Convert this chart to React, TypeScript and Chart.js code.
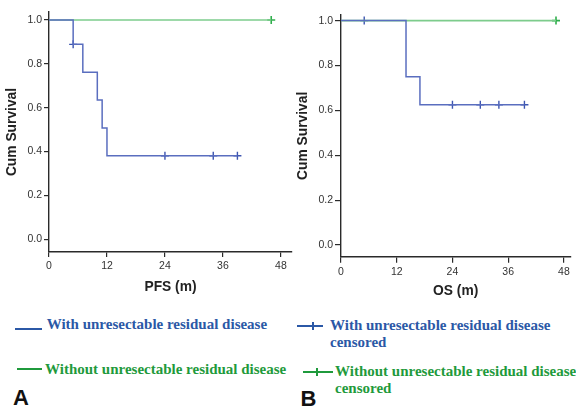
import React, { useEffect, useRef } from "react";
import { Chart, registerables } from "chart.js";
Chart.register(...registerables);

// ---- data ----
const xTicks = [0, 12, 24, 36, 48];
const yTicks = [0, 0.2, 0.4, 0.6, 0.8, 1.0];

const pfsWithTimes = [0, 5, 7, 10, 11, 12, 39];
const pfsWithSurv = [1, 0.889, 0.762, 0.635, 0.508, 0.381, 0.381];
const pfsWithCensTimes = [5, 24, 34, 39];
const pfsWithCensSurv = [0.889, 0.381, 0.381, 0.381];
const pfsWithoutTimes = [0, 46];
const pfsWithoutSurv = [1, 1];
const pfsWithoutCensTimes = [46];
const pfsWithoutCensSurv = [1];

const osWithTimes = [0, 14, 17, 39.5];
const osWithSurv = [1, 0.75, 0.625, 0.625];
const osWithCensTimes = [5, 24, 30, 34, 39.5];
const osWithCensSurv = [1, 0.625, 0.625, 0.625, 0.625];
const osWithoutTimes = [0, 46.3];
const osWithoutSurv = [1, 1];
const osWithoutCensTimes = [46.3];
const osWithoutCensSurv = [1];

const legendWith = "With unresectable residual disease";
const legendWithout = "Without unresectable residual disease";
const legendCensored = "censored";
const yTitle = "Cum Survival";

// ---- styles ----
const BLUE_LINE = "#5a6ebf";
const BLUE_MARK = "#3d55b0";
const GREEN_LINE = "#7dcc8c";
const GREEN_MARK = "#2fae4c";
const AXIS = "#2a2a2a";
const TEXT_BLUE = "#2b58a6";
const TEXT_GREEN = "#1f9a3c";

const zip = (xs: number[], ys: number[]) => xs.map((x, i) => ({ x, y: ys[i] }));

type P = {
  withT: number[]; withS: number[]; withCT: number[]; withCS: number[];
  woT: number[]; woS: number[]; woCT: number[]; woCS: number[];
  xTitle: string; xMax: number; yMin: number; yMax: number;
  padTop: number; padRight: number; yAxisW: number; xAxisH: number;
  xTitlePad: number; yTitlePad: number; tickLen: number;
};

function makeConfig(p: P): any {
  const tickFont = { family: "'Liberation Sans', Arial, sans-serif", size: 10.5 };
  const titleFont = { family: "'Liberation Sans', Arial, sans-serif", size: 13.8, weight: "bold" as const };
  return {
    type: "scatter",
    data: {
      datasets: [
        {
          data: zip(p.withT, p.withS), showLine: true, stepped: "before",
          borderColor: BLUE_LINE, borderWidth: 1.5, pointRadius: 0, fill: false,
        },
        {
          data: zip(p.woT, p.woS), showLine: true, stepped: "before",
          borderColor: GREEN_LINE, borderWidth: 1.6, pointRadius: 0, fill: false,
        },
        {
          data: zip(p.withCT, p.withCS), showLine: false, pointStyle: "cross",
          pointRadius: 4, pointBorderWidth: 1.4, pointBorderColor: BLUE_MARK, borderColor: BLUE_MARK,
        },
        {
          data: zip(p.woCT, p.woCS), showLine: false, pointStyle: "cross",
          pointRadius: 4, pointBorderWidth: 1.6, pointBorderColor: GREEN_MARK, borderColor: GREEN_MARK,
        },
      ],
    },
    options: {
      animation: false,
      responsive: false,
      events: [],
      layout: { padding: { left: 0, right: p.padRight, top: p.padTop, bottom: 0 } },
      plugins: { legend: { display: false }, tooltip: { enabled: false } },
      scales: {
        x: {
          type: "linear", min: 0, max: p.xMax,
          afterBuildTicks: (s: any) => { s.ticks = xTicks.map((v) => ({ value: v })); },
          afterFit: (s: any) => { s.height = p.xAxisH; },
          grid: { display: true, drawOnChartArea: false, drawTicks: true, tickLength: p.tickLen, color: AXIS, lineWidth: 1.2 },
          border: { display: true, color: AXIS, width: 1.4 },
          ticks: { font: tickFont, color: "#333", padding: 3, maxRotation: 0, autoSkip: false },
          title: { display: true, text: p.xTitle, font: titleFont, color: "#222", padding: { top: 0, bottom: p.xTitlePad } },
        },
        y: {
          type: "linear", min: p.yMin, max: p.yMax,
          afterBuildTicks: (s: any) => { s.ticks = yTicks.map((v) => ({ value: v })); },
          afterFit: (s: any) => { s.width = p.yAxisW; },
          grid: { display: true, drawOnChartArea: false, drawTicks: true, tickLength: p.tickLen, color: AXIS, lineWidth: 1.2 },
          border: { display: true, color: AXIS, width: 1.4 },
          ticks: {
            font: tickFont, color: "#333", padding: 2, autoSkip: false,
            callback: (v: any) => Number(v).toFixed(1),
          },
          title: { display: true, text: yTitle, font: titleFont, color: "#222", padding: { top: p.yTitlePad, bottom: 0 } },
        },
      },
    },
  };
}

function KMChart({ p, left, width, height }: { p: P; left: number; width: number; height: number }) {
  const ref = useRef<HTMLCanvasElement | null>(null);
  useEffect(() => {
    if (!ref.current) return;
    const chart = new Chart(ref.current, makeConfig(p));
    return () => chart.destroy();
  }, []);
  return (
    <canvas
      ref={ref}
      width={width}
      height={height}
      style={{ position: "absolute", left, top: 0, width, height }}
    />
  );
}

const serif: React.CSSProperties = {
  position: "absolute",
  fontFamily: "'Liberation Serif', 'Times New Roman', serif",
  fontWeight: "bold",
  fontSize: 15,
  lineHeight: "17px",
  whiteSpace: "nowrap",
};

function Line({ x1, x2, y, h, color, cross }: { x1: number; x2: number; y: number; h: number; color: string; cross?: number }) {
  return (
    <>
      <div style={{ position: "absolute", left: x1, top: y - h / 2, width: x2 - x1, height: h, background: color }} />
      {cross !== undefined && (
        <div style={{ position: "absolute", left: cross - 1, top: y - 4, width: 2, height: 8, background: color }} />
      )}
    </>
  );
}

export default function App() {
  const pfs: P = {
    withT: pfsWithTimes, withS: pfsWithSurv, withCT: pfsWithCensTimes, withCS: pfsWithCensSurv,
    woT: pfsWithoutTimes, woS: pfsWithoutSurv, woCT: pfsWithoutCensTimes, woCS: pfsWithoutCensSurv,
    xTitle: "PFS (m)", xMax: 50.3, yMin: -0.058, yMax: 1.0365,
    padTop: 12, padRight: 8, yAxisW: 49, xAxisH: 48, xTitlePad: 5, yTitlePad: 4, tickLen: 5,
  };
  const os: P = {
    withT: osWithTimes, withS: osWithSurv, withCT: osWithCensTimes, withCS: osWithCensSurv,
    woT: osWithoutTimes, woS: osWithoutSurv, woCT: osWithoutCensTimes, woCS: osWithoutCensSurv,
    xTitle: "OS (m)", xMax: 49.4, yMin: -0.052, yMax: 1.025,
    padTop: 15, padRight: 0, yAxisW: 51, xAxisH: 43.3, xTitlePad: 1, yTitlePad: 5, tickLen: 6,
  };
  return (
    <div style={{ position: "absolute", left: 0, top: 0, width: 576, height: 408, overflow: "hidden", background: "#fff" }}>
      <KMChart p={pfs} left={0} width={300} height={300} />
      <KMChart p={os} left={290} width={286} height={300} />

      <Line x1={15} x2={42} y={329} h={2.5} color={TEXT_BLUE} />
      <div style={{ ...serif, left: 46.7, top: 330 - 13.6, color: TEXT_BLUE }}>{legendWith}</div>

      <Line x1={17} x2={42} y={368.5} h={2} color={TEXT_GREEN} />
      <div style={{ ...serif, left: 45, top: 375 - 13.6, color: TEXT_GREEN }}>{legendWithout}</div>

      <Line x1={297} x2={323} y={326} h={2} color={TEXT_BLUE} cross={313} />
      <div style={{ ...serif, left: 330, top: 331 - 13.6, color: TEXT_BLUE }}>
        {legendWith}
        <br />
        {legendCensored}
      </div>

      <Line x1={303} x2={333} y={371.7} h={2} color={TEXT_GREEN} cross={317} />
      <div style={{ ...serif, left: 335, top: 377 - 13.6, color: TEXT_GREEN }}>
        {legendWithout}
        <br />
        {legendCensored}
      </div>

      <div style={{ position: "absolute", left: 13, top: 387.4, fontFamily: "'Liberation Sans', Arial, sans-serif", fontWeight: "bold", fontSize: 22, lineHeight: "22px", color: "#111" }}>A</div>
      <div style={{ position: "absolute", left: 300.5, top: 388.4, fontFamily: "'Liberation Sans', Arial, sans-serif", fontWeight: "bold", fontSize: 22, lineHeight: "22px", color: "#111" }}>B</div>
    </div>
  );
}
